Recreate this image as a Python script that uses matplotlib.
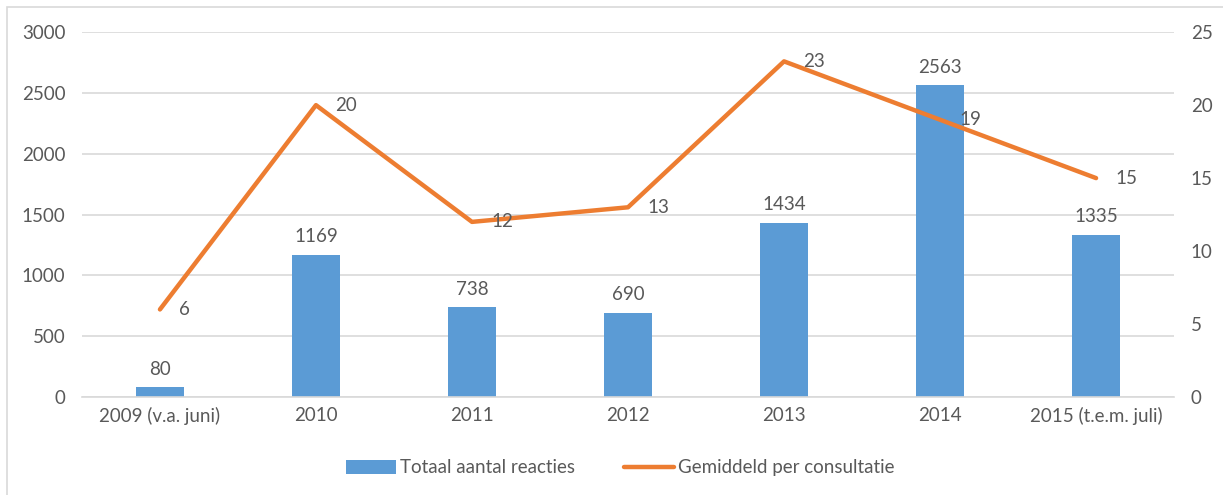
import numpy as np
import matplotlib.pyplot as plt
from matplotlib.patches import Rectangle

categories = ['2009 (v.a. juni)', '2010', '2011', '2012', '2013', '2014',
              '2015 (t.e.m. juli)']
totaal = [80, 1169, 738, 690, 1434, 2563, 1335]
gemiddeld = [6, 20, 12, 13, 23, 19, 15]

blue = '#5B9BD5'
orange = '#ED7D31'
txt = '#595959'
grid = '#D9D9D9'

plt.rcParams['font.family'] = ['Lato', 'DejaVu Sans']
fs = 13.5

fig = plt.figure(figsize=(12.23, 4.95), dpi=100)
fig.patches.append(Rectangle((0.006, -0.01), 1.0, 0.996, transform=fig.transFigure,
                             fill=False, edgecolor=grid, linewidth=1.2))
ax = fig.add_axes([0.067, 0.198, 0.893, 0.737])
ax2 = ax.twinx()

x = np.arange(len(categories))
bars = ax.bar(x, totaal, width=0.31, color=blue, zorder=2,
              label='Totaal aantal reacties')
for xi, v in zip(x, totaal):
    ax.annotate(str(v), (xi, v), xytext=(0, 7), textcoords='offset points',
                ha='center', va='bottom', fontsize=fs, color=txt)

line, = ax2.plot(x, gemiddeld, color=orange, linewidth=3.2,
                 solid_capstyle='round', zorder=3,
                 label='Gemiddeld per consultatie')
for xi, v in zip(x, gemiddeld):
    ax2.annotate(str(v), (xi, v), xytext=(14, 0), textcoords='offset points',
                 ha='left', va='center', fontsize=fs, color=txt)

ax.set_xlim(-0.5, len(categories) - 0.5)
ax.set_ylim(0, 3000)
ax.set_yticks(range(0, 3001, 500))
ax2.set_ylim(0, 25)
ax2.set_yticks(range(0, 26, 5))
ax.set_xticks(x)
ax.set_xticklabels(categories)

ax.yaxis.grid(True, color=grid, linewidth=1.2, zorder=0)
ax.set_axisbelow(True)
for a in (ax, ax2):
    for s in a.spines.values():
        s.set_visible(False)
    a.tick_params(length=0, labelsize=fs, colors=txt, pad=12)
ax.spines['bottom'].set_visible(True)
ax.spines['bottom'].set_color(grid)
ax.spines['bottom'].set_linewidth(1.2)
ax.tick_params(axis='x', pad=7)

fig.legend([bars, line], ['Totaal aantal reacties', 'Gemiddeld per consultatie'],
           loc='center', bbox_to_anchor=(0.507, 0.055), ncol=2, frameon=False,
           fontsize=fs, labelcolor=txt, handlelength=2.7, handleheight=0.75,
           columnspacing=2.6, handletextpad=0.2)

fig.savefig('out.png', dpi=100)
